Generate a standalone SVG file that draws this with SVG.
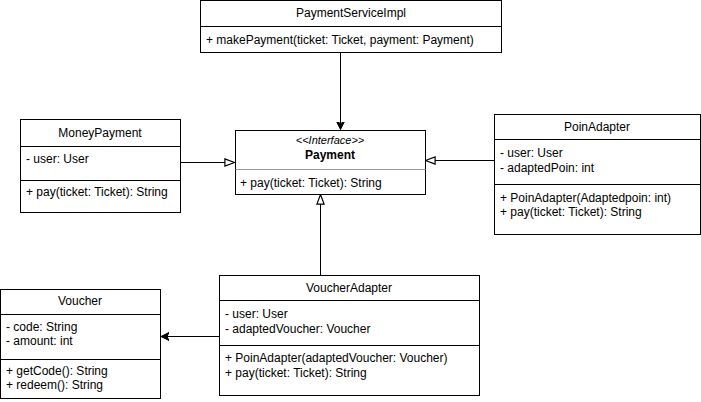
<svg xmlns="http://www.w3.org/2000/svg" width="701" height="402" viewBox="0 0 701 402">
<style>
.box{fill:#fff;stroke:#000;stroke-width:1}
.sep{stroke:#000;stroke-width:1}
.sepg{stroke:#999;stroke-width:1}
text{font-family:"Liberation Sans",Arial,sans-serif;font-size:12px;fill:#000}
.c{text-anchor:middle}
.b{font-weight:bold}
.i{font-style:italic;font-size:11px}
.ln{fill:none;stroke:#000;stroke-width:1}
</style>
<defs>
<marker id="filled" markerWidth="10" markerHeight="10" refX="8" refY="4" orient="auto" markerUnits="userSpaceOnUse" viewBox="0 0 10 8">
<path d="M0,0 L8,4 L0,8 L2,4 Z" fill="#000" stroke="#000" stroke-width="1"/>
</marker>
<marker id="hollow" markerWidth="12" markerHeight="10" refX="9" refY="4" orient="auto" markerUnits="userSpaceOnUse" viewBox="0 0 10 8">
<path d="M1,1 L9,4 L1,7 Z" fill="#fff" stroke="#000" stroke-width="1"/>
</marker>
</defs>
<g id="connectors">
<line class="ln" x1="340.5" y1="52" x2="340.5" y2="129.5" marker-end="url(#filled)"/>
<line class="ln" x1="180.5" y1="162.5" x2="234.5" y2="162.5" marker-end="url(#hollow)"/>
<line class="ln" x1="494.5" y1="160.5" x2="425.5" y2="160.5" marker-end="url(#hollow)"/>
<line class="ln" x1="320.5" y1="275" x2="320.5" y2="194.5" marker-end="url(#hollow)"/>
<line class="ln" x1="219.5" y1="336.5" x2="161" y2="336.5" marker-end="url(#filled)"/>
</g>
<g id="PaymentServiceImpl">
<rect class="box" x="200.5" y="0.5" width="301" height="52"/>
<line class="sep" x1="200.5" y1="26.5" x2="501.5" y2="26.5"/>
<text class="c" x="351" y="17">PaymentServiceImpl</text>
<text x="206" y="44">+ makePayment(ticket: Ticket, payment: Payment)</text>
</g>
<g id="Payment">
<rect class="box" x="235.5" y="130.5" width="190" height="64"/>
<line class="sepg" x1="235.5" y1="169.5" x2="425.5" y2="169.5"/>
<text class="c i" x="330" y="144">&lt;&lt;Interface&gt;&gt;</text>
<text class="c b" x="330" y="159">Payment</text>
<text x="240" y="187">+ pay(ticket: Ticket): String</text>
</g>
<g id="MoneyPayment">
<rect class="box" x="20.5" y="119.5" width="160" height="93"/>
<line class="sep" x1="20.5" y1="146.5" x2="180.5" y2="146.5"/>
<line class="sep" x1="20.5" y1="180.5" x2="180.5" y2="180.5"/>
<text class="c" x="100" y="137">MoneyPayment</text>
<text x="26" y="163">- user: User</text>
<text x="26" y="196">+ pay(ticket: Ticket): String</text>
</g>
<g id="PoinAdapter">
<rect class="box" x="494.5" y="114.5" width="206" height="120"/>
<line class="sep" x1="494.5" y1="139.5" x2="700.5" y2="139.5"/>
<line class="sep" x1="494.5" y1="184.5" x2="700.5" y2="184.5"/>
<text class="c" x="597" y="131">PoinAdapter</text>
<text x="500" y="157">- user: User</text>
<text x="500" y="172">- adaptedPoin: int</text>
<text x="500" y="202">+ PoinAdapter(Adaptedpoin: int)</text>
<text x="500" y="216">+ pay(ticket: Ticket): String</text>
</g>
<g id="VoucherAdapter">
<rect class="box" x="219.5" y="275.5" width="260" height="120"/>
<line class="sep" x1="219.5" y1="300.5" x2="479.5" y2="300.5"/>
<line class="sep" x1="219.5" y1="345.5" x2="479.5" y2="345.5"/>
<text class="c" x="349" y="292">VoucherAdapter</text>
<text x="225" y="318">- user: User</text>
<text x="225" y="333">- adaptedVoucher: Voucher</text>
<text x="225" y="362">+ PoinAdapter(adaptedVoucher: Voucher)</text>
<text x="225" y="377">+ pay(ticket: Ticket): String</text>
</g>
<g id="Voucher">
<rect class="box" x="0.5" y="289.5" width="160" height="109"/>
<line class="sep" x1="0.5" y1="314.5" x2="160.5" y2="314.5"/>
<line class="sep" x1="0.5" y1="359.5" x2="160.5" y2="359.5"/>
<text class="c" x="80" y="305">Voucher</text>
<text x="6" y="331">- code: String</text>
<text x="6" y="345">- amount: int</text>
<text x="6" y="375">+ getCode(): String</text>
<text x="6" y="389">+ redeem(): String</text>
</g>
</svg>
